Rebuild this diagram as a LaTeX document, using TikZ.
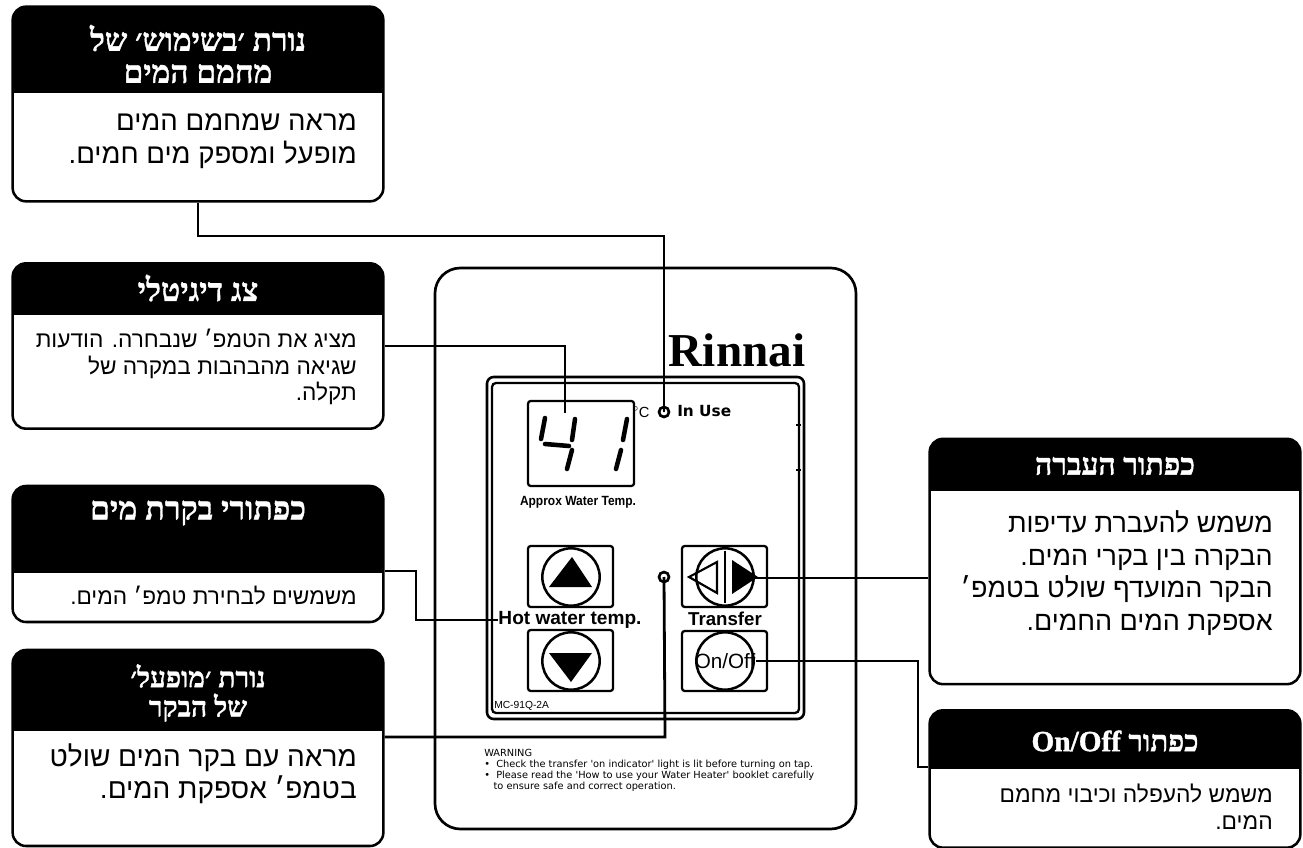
\documentclass[tikz,border=0pt]{standalone}
\usepackage{fontspec}
\setmainfont{Liberation Sans}
\newfontfamily\hebserif[Script=Hebrew,BoldFeatures={FakeBold=1.2}]{Liberation Serif}
\newfontfamily\hebsans[Script=Hebrew]{Liberation Sans}
\newfontfamily\dejavu{DejaVu Sans}
\TeXXeTstate=1
\newcommand{\heb}[1]{\beginR #1\endR}
\tikzset{
  calloutbox/.style={draw,line width=1.9pt,rounded corners=10pt,fill=white,inner sep=0pt,
    minimum width=278pt,
    path picture={\fill[black,sharp corners] (path picture bounding box.north west) rectangle
      ([yshift=-#1]path picture bounding box.north east);}},
  headtext/.style={text=white,align=center,inner sep=0pt},
  bodytext/.style={text=black,align=right,anchor=east,inner sep=0pt},
  wire/.style={line width=2.1pt},
  keybox/.style={line width=1.7pt,rounded corners=2pt},
  keyring/.style={draw,circle,line width=1.9pt,inner sep=0pt,minimum size=43pt},
  lamp/.style={draw,circle,line width=2pt,inner sep=0pt,minimum size=7.5pt},
  segment/.style={line width=3.4pt,line cap=round}
}
\begin{document}
\begin{tikzpicture}[x=0.75pt,y=-0.75pt]
\useasboundingbox (0,0) rectangle (1303,848);

\draw[line width=2pt,rounded corners=19pt] (435,268) rectangle (856,829);
\draw[line width=1.9pt,rounded corners=5pt] (487,377) rectangle (804,719);
\draw[line width=1.7pt,rounded corners=3pt] (492,383) rectangle (799,713);
\draw[line width=1.7pt] (796,425) -- (801,425);
\draw[line width=1.7pt] (796,470) -- (801,470);

\node[inner sep=0pt,font=\fontspec{Liberation Serif}\bfseries\fontsize{35.4}{35.4}\selectfont] (brandText) at (737,350) {Rinnai};

\draw[line width=1.7pt,rounded corners=2pt] (528,401) rectangle (634,486);
\draw[segment] (545,418) -- (541,439);
\draw[segment] (545,444) -- (569,446);
\draw[segment] (575,419) -- (572,440);
\draw[segment] (572,450) -- (567,469);
\draw[segment] (627,419) -- (623,440);
\draw[segment] (621,450) -- (616,469);
\node[inner sep=0pt,xscale=0.9,font=\fontsize{10}{10}\selectfont\bfseries] (tempText) at (578,502) {Approx Water Temp.};
\node[inner sep=0pt,font=\fontsize{11}{11}\selectfont] (degText) at (641,412) {$^\circ$C};
\node[lamp] (useLed) at (664,412) {};
\node[inner sep=0pt,anchor=west,font=\dejavu\bfseries\fontsize{11.5}{11.5}\selectfont] (useText) at (677,411) {In Use};

\draw[keybox] (528,546) rectangle (613,607);
\node[keyring] (upRing) at (571,577) {};
\fill (572,557) -- (592,587) -- (549,587) -- cycle;
\node[inner sep=0pt,font=\bfseries\fontsize{14.3}{14.3}\selectfont] (hotText) at (570,620) {Hot water temp.};
\draw[keybox] (528,630) rectangle (613,691);
\node[keyring] (downRing) at (571,661) {};
\fill (549,653) -- (592,653) -- (571,682) -- cycle;

\draw[keybox] (682,546) rectangle (767,607);
\node[keyring] (moveRing) at (725,577) {};
\draw[line width=1.9pt] (725,551) -- (725,603);
\draw[line width=1.6pt] (689,577) -- (717,562) -- (717,593) -- cycle;
\fill (732,560) -- (758,577) -- (732,594) -- cycle;
\coordinate (moveTip) at (755,578);
\node[inner sep=0pt,font=\bfseries\fontsize{14}{14}\selectfont] (moveText) at (725,619) {Transfer};
\draw[keybox] (682,631) rectangle (767,691);
\node[keyring] (powerRing) at (725,661) {};
\node[inner sep=0pt,font=\fontsize{15.5}{15.5}\selectfont] (powerText) at (725,661) {On/Off};

\node[lamp] (onLed) at (664,577) {};
\node[inner sep=0pt,anchor=west,font=\fontsize{7.7}{7.7}\selectfont] (modelText) at (494,706) {MC-91Q-2A};
\node[inner sep=0pt,anchor=west,align=left,font=\dejavu\fontsize{7.35}{8.3}\selectfont] (warnText) at (484,770)
  {WARNING\\
  \textbullet\ \ Check the transfer 'on indicator' light is lit before turning on tap.\\
  \textbullet\ \ Please read the 'How to use your Water Heater' booklet carefully\\
  \ \ \ to ensure safe and correct operation.};

\node[calloutbox=64.5pt,minimum height=146pt] (useBox) at (198,104) {};
\node[headtext,font=\hebserif\bfseries\fontsize{23.7}{24}\selectfont] (useHead) at (198,54) {\heb{נורת ׳בשימוש׳ של}\\\heb{מחמם המים}};
\node[bodytext,font=\hebsans\fontsize{20.7}{24.5}\selectfont] (useBody) at (357,141) {\heb{מראה שמחמם המים}\\\heb{מופעל ומספק מים חמים.}};

\node[calloutbox=39pt,minimum height=124pt] (dispBox) at (198,346) {};
\node[headtext,font=\hebserif\bfseries\fontsize{24}{24}\selectfont] (dispHead) at (198,288) {\heb{צג דיגיטלי}};
\node[bodytext,font=\hebsans\fontsize{17}{20}\selectfont] (dispBody) at (357,367) {\heb{מציג את הטמפ׳ שנבחרה. הודעות}\\\heb{שגיאה מהבהבות במקרה של}\\\heb{תקלה.}};

\node[calloutbox=65pt,minimum height=102pt] (tempBox) at (198,554) {};
\node[headtext,font=\hebserif\bfseries\fontsize{24}{24}\selectfont] (tempHead) at (198,513) {\heb{כפתורי בקרת מים}};
\node[bodytext,font=\hebsans\fontsize{17}{20}\selectfont] (tempBody) at (357,596) {\heb{משמשים לבחירת טמפ׳ המים.}};

\node[calloutbox=61pt,minimum height=147pt] (lampBox) at (198,748) {};
\node[headtext,font=\hebserif\bfseries\fontsize{21}{22}\selectfont] (lampHead) at (198,693) {\heb{נורת ׳מופעל׳}\\\heb{של הבקר}};
\node[bodytext,font=\hebsans\fontsize{21}{24}\selectfont] (lampBody) at (357,773.5) {\heb{מראה עם בקר המים שולט}\\\heb{בטמפ׳ אספקת המים.}};

\node[calloutbox=39pt,minimum height=184pt] (moveBox) at (1115,561.5) {};
\node[headtext,font=\hebserif\bfseries\fontsize{22.5}{22}\selectfont] (moveHead) at (1115,466) {\heb{כפתור העברה}};
\node[bodytext,font=\hebsans\fontsize{20.2}{24.5}\selectfont] (moveBody) at (1273,573) {\heb{משמש להעברת עדיפות}\\\heb{הבקרה בין בקרי המים.}\\\heb{הבקר המועדף שולט בטמפ׳}\\\heb{אספקת המים החמים.}};

\node[calloutbox=44pt,minimum height=103pt] (powerBox) at (1115,779) {};
\node[headtext,font=\hebserif\bfseries\fontsize{22}{22}\selectfont] (powerHead) at (1115,741) {\heb{כפתור \beginL On/Off\endL}};
\node[bodytext,font=\hebsans\fontsize{17.1}{20}\selectfont] (powerBody) at (1273,807) {\heb{משמש להעפלה וכיבוי מחמם}\\\heb{המים.}};

\coordinate (useBend) at (198,236);
\coordinate (dispEnd) at (565,413);
\coordinate (tempBend) at (416,571);
\coordinate (lampBend) at (665,737);
\coordinate (powerBend) at (918,767);

\draw[wire] (useBox.south) -- (useBend) -| (useLed.center);
\draw[wire] (dispBox.east) -| (dispEnd);
\draw[wire] (tempBox.east |- tempBend) -- (tempBend) |- (hotText.west);
\draw[wire] (lampBox.east |- lampBend) -- (lampBend) -- (onLed.center);
\draw[wire] (moveBox.west |- moveTip) -- (moveTip);
\draw[wire] (powerBox.west |- powerBend) -- (powerBend) |- (powerText.east);
\end{tikzpicture}
\end{document}
